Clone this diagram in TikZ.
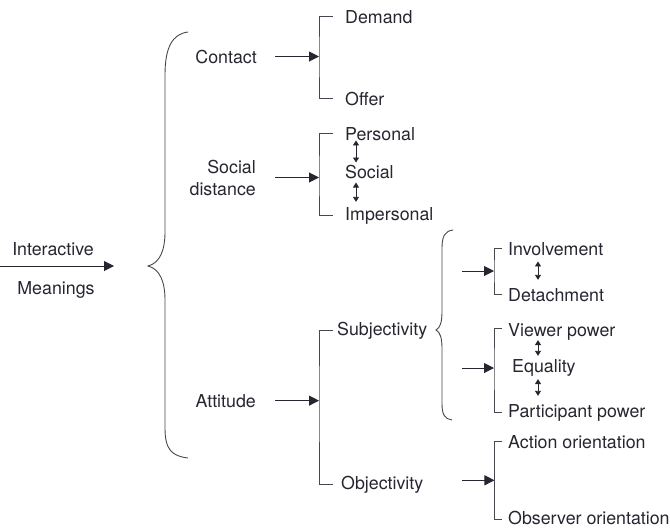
\documentclass[tikz,border=0pt]{standalone}
\usepackage{fontspec}
\setmainfont{TeX Gyre Heros}
\usetikzlibrary{arrows.meta}
\definecolor{ink}{RGB}{38,38,48}
\begin{document}
\begin{tikzpicture}[x=1pt, y=-1pt,
		lbl/.style={inner sep=0pt, font=\fontsize{17.8}{22}\selectfont, text=ink},
		link/.style={draw=ink, line width=1pt, -{Triangle[length=10pt,width=10pt]}},
		swap/.style={draw=ink, line width=0.9pt, {Triangle[length=5pt,width=6pt]}-{Triangle[length=5pt,width=6pt]}},
		bracket/.style={draw=ink!85, line width=0.9pt}]
	            \useasboundingbox (0,0) rectangle (670,528);
	            \node[lbl, anchor=base] at (53,255) (inter) {Interactive};
	            \node[lbl, anchor=base] at (56,294) (mean) {Meanings};
	            \coordinate (start) at (0,266);
	            \coordinate (bigtip) at (114,266);
	            \draw[link] (start) -- (bigtip);
	            \draw[bracket] (188,32) .. controls (172,34) and (165,48) .. (165,75) -- (165,232)
		            .. controls (165,250) and (160,263) .. (148,266)
		            .. controls (160,269) and (165,282) .. (165,300) -- (165,428)
		            .. controls (165,450) and (172,456) .. (188,458);
	            \node[lbl, anchor=base east] at (257,63) (contact) {Contact};
	            \node[lbl, anchor=base east, align=right] at (256,195) (dist) {Social\\distance};
	            \node[lbl, anchor=base east] at (256,407) (att) {Attitude};
	            \coordinate (cb) at ([xshift=62pt]contact.east);
	            \coordinate (sb) at ([xshift=63pt]dist.east);
	            \coordinate (ab) at ([xshift=63pt]att.east);
	            \draw[link] ([xshift=18pt]contact.east) -- (cb);
	            \draw[link] ([xshift=19pt]dist.east) -- (sb);
	            \draw[link] ([xshift=19pt]att.east) -- (ab);
	            \node[lbl, anchor=base west] at (345,23) (demand) {Demand};
	            \node[lbl, anchor=base west] at (345,105) (offer) {Offer};
	            \draw[bracket] ([xshift=-12pt]demand.west) -| (cb) |- ([xshift=-12pt]offer.west);
	            \node[lbl, anchor=base west] at (345,140) (pers) {Personal};
	            \node[lbl, anchor=base west] at (345,178) (soc) {Social};
	            \node[lbl, anchor=base west] at (345,220) (imper) {Impersonal};
	            \draw[bracket] ([xshift=-12pt]pers.west) -| (sb) |- ([xshift=-12pt]imper.west);
	            \draw[swap] ([xshift=11pt]pers.south west) -- ([xshift=11pt,yshift=2pt]soc.north west);
	            \draw[swap] ([xshift=11pt,yshift=-4pt]soc.south west) -- ([xshift=11pt,yshift=5pt]imper.north west);
	            \node[lbl, anchor=base west] at (337,335) (subj) {Subjectivity};
	            \node[lbl, anchor=base west] at (341,489) (obj) {Objectivity};
	            \draw[bracket] ([xshift=-4pt]subj.west) -| (ab) |- ([xshift=-8pt]obj.west);
	            \draw[bracket] (453,230) .. controls (445,231) and (442,236) .. (442,248) -- (442,312)
		            .. controls (442,322) and (440,328) .. (436,330)
		            .. controls (440,332) and (442,338) .. (442,348) -- (442,404)
		            .. controls (442,415) and (445,419) .. (452,420);
	            \coordinate (is) at (462,271);
	            \coordinate (ib) at (494,271);
	            \coordinate (vs) at (462,368);
	            \coordinate (vb) at (494,368);
	            \coordinate (ob) at ([xshift=71pt,yshift=4pt]obj.east);
	            \draw[link] (is) -- (ib);
	            \draw[link] (vs) -- (vb);
	            \draw[link] ([xshift=39pt,yshift=4pt]obj.east) -- (ob);
	            \node[lbl, anchor=base west] at (508,255) (inv) {Involvement};
	            \node[lbl, anchor=base west] at (508,301) (det) {Detachment};
	            \draw[bracket] ([xshift=-6pt]inv.west) -| (ib) |- ([xshift=-6pt]det.west);
	            \draw[swap] ([xshift=30pt,yshift=-6pt]inv.south west) -- ([xshift=30pt,yshift=8pt]det.north west);
	            \node[lbl, anchor=base west] at (508,336) (view) {Viewer power};
	            \node[lbl, anchor=base west] at (512,372) (equal) {Equality};
	            \node[lbl, anchor=base west] at (508,417) (part) {Participant power};
	            \draw[bracket] ([xshift=-6pt,yshift=3pt]view.west) -| (vb) |- ([xshift=-6pt]part.west);
	            \draw[swap] ([xshift=30pt]view.south west) -- ([xshift=26pt,yshift=3pt]equal.north west);
	            \draw[swap] ([xshift=26pt,yshift=-3pt]equal.south west) -- ([xshift=30pt,yshift=8pt]part.north west);
	            \node[lbl, anchor=base west] at (508,448) (act) {Action orientation};
	            \node[lbl, anchor=base west] at (508,524) (obs) {Observer orientation};
	            \draw[bracket] ([xshift=-6pt]act.west) -| (ob) |- ([xshift=-6pt,yshift=-2pt]obs.west);
            \end{tikzpicture}
\end{document}
